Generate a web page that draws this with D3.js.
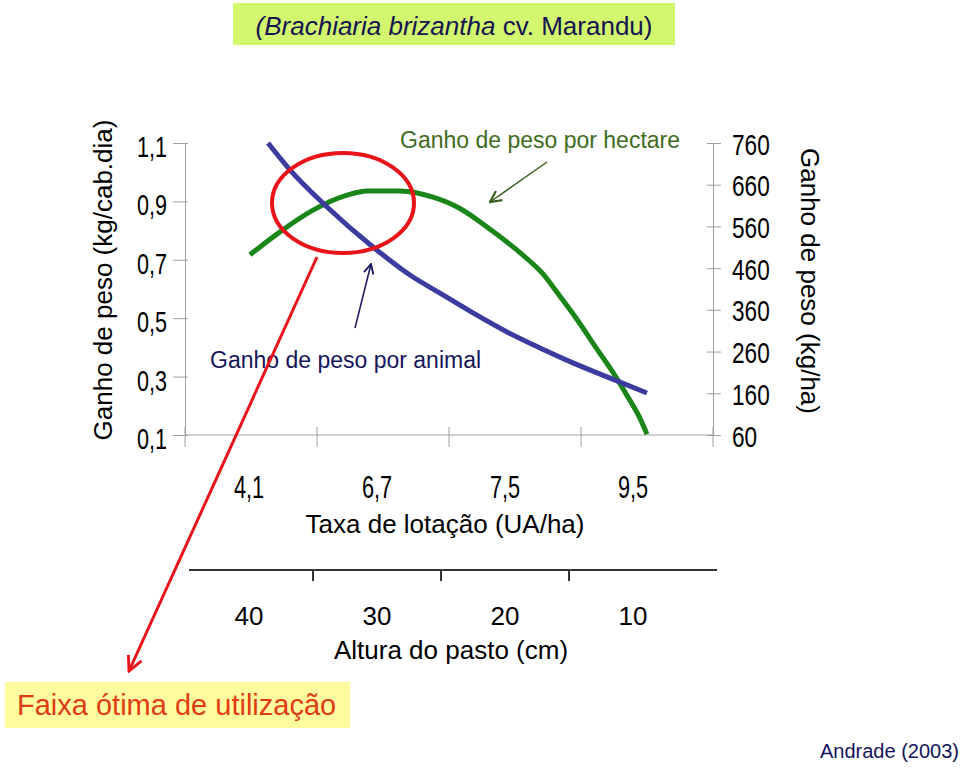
<!DOCTYPE html>
<html><head><meta charset="utf-8">
<script src="https://cdn.jsdelivr.net/npm/d3@7"></script>
<style>body{margin:0;background:#fff}svg{display:block}</style>
</head><body>
<svg id="c" width="960" height="768"></svg>
<script>
// ---------- data ----------
const stockingRates = ["4,1", "6,7", "7,5", "9,5"];      // Taxa de lotação (UA/ha)
const pastureHeights = ["40", "30", "20", "10"];          // Altura do pasto (cm)
const leftTicks = [0.1, 0.3, 0.5, 0.7, 0.9, 1.1];         // kg/cab.dia
const rightTicks = [60, 160, 260, 360, 460, 560, 660, 760]; // kg/ha
// x in axis units (0..4, one unit per stocking-rate class; 0.5 = centre of "4,1")
const animalX    = [0.629, 0.795, 1.076, 1.424, 1.727, 1.932, 2.182, 2.439, 2.689, 2.939, 3.197, 3.5];
const animalGain = [1.10, 1.008, 0.881, 0.744, 0.641, 0.586, 0.518, 0.453, 0.398, 0.347, 0.299, 0.244];
const hectareX    = [0.492, 0.720, 0.970, 1.227, 1.379, 1.629, 1.879, 2.083, 2.311, 2.538, 2.712, 2.818, 2.970, 3.121, 3.242, 3.348, 3.447, 3.5];
const hectareGain = [492, 547, 599, 635, 645, 645, 630, 603, 553, 497, 446, 402, 337, 266, 210, 155, 100, 62];

// ---------- setup ----------
const svg = d3.select("#c");
const FONT = "'Liberation Sans', Arial, Helvetica, sans-serif";
const comma = v => d3.format(".1f")(v).replace(".", ",");

const L = 185, R = 713, T = 143, B = 435;
const xu = d3.scaleLinear([0, 4], [L, R]);
const xTop = d3.scaleBand(stockingRates, [L, R]);
const xLab = d3.scaleBand(stockingRates, [L, 697]);
const xH = d3.scaleBand(pastureHeights, [L, 697]);
const yL = d3.scaleLinear([0.1, 1.1], [B, T]);
const yR = d3.scaleLinear([60, 760], [B, T]);

const defs = svg.append("defs");
function marker(id, color, size) {
  defs.append("marker").attr("id", id).attr("viewBox", "0 0 10 10")
    .attr("refX", 9).attr("refY", 5).attr("markerWidth", size).attr("markerHeight", size)
    .attr("markerUnits", "userSpaceOnUse").attr("orient", "auto")
    .append("path").attr("d", "M1,1 L9,5 L1,9").attr("fill", "none")
    .attr("stroke", color).attr("stroke-width", 1.6);
}
marker("mRed", "#e8141a", 18);
marker("mBlue", "#1a1a60", 12);
marker("mGreen", "#3a5f1a", 14);

// ---------- title box ----------
svg.append("rect").attr("x", 233).attr("y", 3).attr("width", 442).attr("height", 42).attr("fill", "#d2f66e");
const tt = svg.append("text").attr("x", 454).attr("y", 35).attr("text-anchor", "middle")
  .attr("font-family", FONT).attr("font-size", 26).attr("fill", "#141450");
tt.append("tspan").attr("font-style", "italic").text("(Brachiaria brizantha");
tt.append("tspan").text(" cv. Marandu)");

// ---------- left axis ----------
const gl = svg.append("g").attr("transform", `translate(${L},0)`)
  .call(d3.axisLeft(yL).tickValues(leftTicks).tickSizeInner(12).tickSizeOuter(0).tickFormat(comma));
gl.select(".domain").attr("stroke", "#a0a0a0");
gl.selectAll(".tick line").attr("stroke", "#a0a0a0").attr("x1", 3);
gl.selectAll(".tick text").attr("x", 0).attr("dy", "0.45em")
  .attr("transform", "translate(-18,0) scale(0.72,1)")
  .attr("font-family", FONT).attr("font-size", 30).attr("fill", "#000");

// ---------- right axis ----------
const gr = svg.append("g").attr("transform", `translate(${R},0)`)
  .call(d3.axisRight(yR).tickValues(rightTicks).tickSizeInner(8).tickSizeOuter(0));
gr.select(".domain").attr("stroke", "#a0a0a0");
gr.selectAll(".tick line").attr("stroke", "#a0a0a0").attr("x1", -6);
gr.selectAll(".tick text").attr("x", 0).attr("dy", "0.38em")
  .attr("transform", "translate(19,0) scale(0.78,1)")
  .attr("font-family", FONT).attr("font-size", 29).attr("fill", "#000");

// ---------- stocking-rate axis ----------
svg.append("line").attr("x1", L).attr("x2", R).attr("y1", B).attr("y2", B).attr("stroke", "#a0a0a0");
const edges = stockingRates.map(d => xTop(d)).concat([xTop(stockingRates[3]) + xTop.bandwidth()]);
svg.selectAll("line.et").data(edges).join("line").attr("class", "et")
  .attr("x1", d => d).attr("x2", d => d).attr("y1", B - 8).attr("y2", B + 12).attr("stroke", "#a0a0a0");
const gs = svg.append("g").attr("transform", `translate(0,${B})`)
  .call(d3.axisBottom(xLab).tickSize(0));
gs.select(".domain").remove();
gs.selectAll(".tick text").attr("y", 0).attr("dy", 0)
  .attr("transform", "translate(0,63) scale(0.68,1)")
  .attr("font-family", FONT).attr("font-size", 32).attr("fill", "#000");
svg.append("text").attr("x", 445).attr("y", 533).attr("text-anchor", "middle")
  .attr("font-family", FONT).attr("font-size", 26).attr("fill", "#000").text("Taxa de lotação (UA/ha)");

// ---------- pasture height axis ----------
const HY = 570;
svg.append("line").attr("x1", 189).attr("x2", 717).attr("y1", HY).attr("y2", HY)
  .attr("stroke", "#333").attr("stroke-width", 2);
svg.selectAll("line.ht").data(pastureHeights.slice(1)).join("line").attr("class", "ht")
  .attr("x1", d => xH(d)).attr("x2", d => xH(d)).attr("y1", HY).attr("y2", HY + 11)
  .attr("stroke", "#333").attr("stroke-width", 2);
const gh = svg.append("g").attr("transform", `translate(0,${HY})`)
  .call(d3.axisBottom(xH).tickSize(0));
gh.select(".domain").remove();
gh.selectAll(".tick text").attr("y", 55).attr("dy", 0)
  .attr("font-family", FONT).attr("font-size", 26).attr("fill", "#000");
svg.append("text").attr("x", 451).attr("y", 659).attr("text-anchor", "middle")
  .attr("font-family", FONT).attr("font-size", 26).attr("fill", "#000").text("Altura do pasto (cm)");

// ---------- axis titles ----------
svg.append("text").attr("transform", "translate(112,280) rotate(-90)").attr("text-anchor", "middle")
  .attr("font-family", FONT).attr("font-size", 26).attr("fill", "#000").text("Ganho de peso (kg/cab.dia)");
svg.append("text").attr("transform", "translate(801,281) rotate(90)").attr("text-anchor", "middle")
  .attr("font-family", FONT).attr("font-size", 26).attr("fill", "#000").text("Ganho de peso (kg/ha)");

// ---------- series ----------
const animal = animalX.map((x, i) => [x, animalGain[i]]);
const hectare = hectareX.map((x, i) => [x, hectareGain[i]]);
svg.append("path").datum(hectare).attr("fill", "none").attr("stroke", "#1a861a").attr("stroke-width", 5)
  .attr("stroke-linejoin", "round")
  .attr("d", d3.line().x(d => xu(d[0])).y(d => yR(d[1])).curve(d3.curveMonotoneX));
svg.append("path").datum(animal).attr("fill", "none").attr("stroke", "#3c3ca0").attr("stroke-width", 5)
  .attr("stroke-linejoin", "round")
  .attr("d", d3.line().x(d => xu(d[0])).y(d => yL(d[1])).curve(d3.curveMonotoneX));

// ---------- annotations ----------
svg.append("text").attr("x", 400).attr("y", 148).attr("font-family", FONT).attr("font-size", 23)
  .attr("fill", "#3f6b1e").text("Ganho de peso por hectare");
svg.append("line").attr("x1", 547).attr("y1", 162).attr("x2", 490).attr("y2", 202)
  .attr("stroke", "#3a5f1a").attr("stroke-width", 1.5).attr("marker-end", "url(#mGreen)");

svg.append("text").attr("x", 210).attr("y", 368).attr("font-family", FONT).attr("font-size", 23)
  .attr("fill", "#15155a").text("Ganho de peso por animal");
svg.append("line").attr("x1", 355).attr("y1", 328).attr("x2", 371).attr("y2", 264)
  .attr("stroke", "#1a1a60").attr("stroke-width", 1.5).attr("marker-end", "url(#mBlue)");

svg.append("ellipse").attr("cx", 343).attr("cy", 203).attr("rx", 71).attr("ry", 50)
  .attr("fill", "none").attr("stroke", "#e8141a").attr("stroke-width", 4);
svg.append("line").attr("x1", 317).attr("y1", 257).attr("x2", 129).attr("y2", 671)
  .attr("stroke", "#e8141a").attr("stroke-width", 3).attr("marker-end", "url(#mRed)");

svg.append("rect").attr("x", 5).attr("y", 682).attr("width", 345).attr("height", 46).attr("fill", "#fffb9e");
svg.append("text").attr("x", 17).attr("y", 715).attr("font-family", FONT).attr("font-size", 29)
  .attr("fill", "#e03c14").text("Faixa ótima de utilização");

svg.append("text").attr("x", 820).attr("y", 758).attr("font-family", FONT).attr("font-size", 20)
  .attr("fill", "#14145a").text("Andrade (2003)");
</script>
</body></html>
